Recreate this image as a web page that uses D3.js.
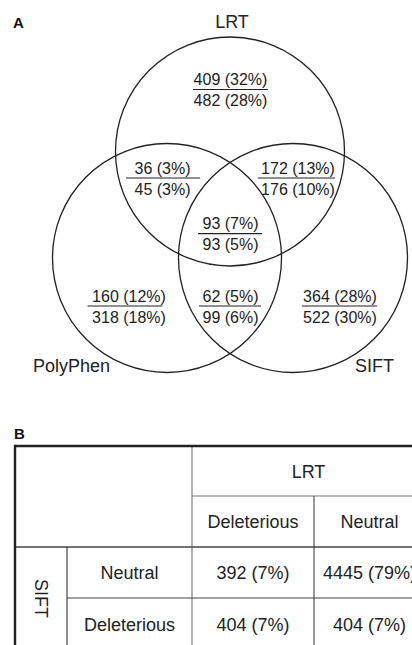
<!DOCTYPE html>
<html>
<head>
<meta charset="utf-8">
<script src="https://cdn.jsdelivr.net/npm/d3@7"></script>
<style>
  html, body { margin: 0; padding: 0; background: #fff; }
  svg { display: block; }
  text { font-family: Arial, "Liberation Sans", sans-serif; fill: #222; }
</style>
</head>
<body>
<div id="chart"></div>
<script>
// ---------- DATA ----------
const setNames = ["LRT", "PolyPhen", "SIFT"];
const regionKeys = ["LRT", "LRT&PolyPhen", "LRT&SIFT", "LRT&PolyPhen&SIFT", "PolyPhen", "PolyPhen&SIFT", "SIFT"];
const topCounts = [409, 36, 172, 93, 160, 62, 364];
const topPercents = [32, 3, 13, 7, 12, 5, 28];
const bottomCounts = [482, 45, 176, 93, 318, 99, 522];
const bottomPercents = [28, 3, 10, 5, 18, 6, 30];

const tableColTitle = "LRT";
const tableRowTitle = "SIFT";
const tableCols = ["Deleterious", "Neutral"];
const tableRows = ["Neutral", "Deleterious"];
const tableCounts = [[392, 4445], [404, 404]];
const tablePercents = [[7, 79], [7, 7]];

// ---------- LAYOUT ----------
const W = 412, H = 645;
const svg = d3.select("#chart").append("svg").attr("width", W).attr("height", H);

// Venn geometry (layout only)
const R = 114.5;
const circleLayout = {
  "LRT": { cx: 230, cy: 151.5, lx: 232, ly: 28, anchor: "middle" },
  "PolyPhen": { cx: 167, cy: 258, lx: 33, ly: 372, anchor: "start" },
  "SIFT": { cx: 293, cy: 258, lx: 394, ly: 372, anchor: "end" }
};
// region label anchor: line centre x, line y, line width, text centre x
const regionLayout = {
  "LRT": { x: 230.5, y: 89.5, w: 75, tx: 230.5 },
  "LRT&PolyPhen": { x: 163, y: 178, w: 74, tx: 162.5 },
  "LRT&SIFT": { x: 296.5, y: 178, w: 77, tx: 298 },
  "LRT&PolyPhen&SIFT": { x: 230, y: 233.7, w: 64, tx: 230.5 },
  "PolyPhen": { x: 125, y: 306, w: 75, tx: 129 },
  "PolyPhen&SIFT": { x: 230, y: 306, w: 62, tx: 230.5 },
  "SIFT": { x: 339.5, y: 306, w: 75, tx: 340 }
};

// panel letters
svg.append("text").attr("x", 13).attr("y", 27.5)
  .style("font-weight", "bold").style("font-size", "15px").style("fill", "#111").text("A");
svg.append("text").attr("x", 14).attr("y", 439)
  .style("font-weight", "bold").style("font-size", "15px").style("fill", "#111").text("B");

// circles
const venn = svg.append("g");
venn.selectAll("circle.set").data(setNames).join("circle")
  .attr("class", "set")
  .attr("cx", d => circleLayout[d].cx)
  .attr("cy", d => circleLayout[d].cy)
  .attr("r", R)
  .attr("fill", "none")
  .attr("stroke", "#222")
  .attr("stroke-width", 1.3);

venn.selectAll("text.setlabel").data(setNames).join("text")
  .attr("class", "setlabel")
  .attr("x", d => circleLayout[d].lx)
  .attr("y", d => circleLayout[d].ly)
  .attr("text-anchor", d => circleLayout[d].anchor)
  .style("font-size", "18px")
  .text(d => d);

const regions = regionKeys.map((k, i) => ({
  key: k,
  top: `${topCounts[i]} (${topPercents[i]}%)`,
  bottom: `${bottomCounts[i]} (${bottomPercents[i]}%)`
}));

const rg = venn.selectAll("g.region").data(regions).join("g").attr("class", "region");
rg.append("text")
  .attr("x", d => regionLayout[d.key].tx)
  .attr("y", d => regionLayout[d.key].y - 4.5)
  .attr("text-anchor", "middle")
  .style("font-size", "16px")
  .text(d => d.top);
rg.append("line")
  .attr("x1", d => regionLayout[d.key].x - regionLayout[d.key].w / 2)
  .attr("x2", d => regionLayout[d.key].x + regionLayout[d.key].w / 2)
  .attr("y1", d => regionLayout[d.key].y)
  .attr("y2", d => regionLayout[d.key].y)
  .attr("stroke", "#222").attr("stroke-width", 1.2);
rg.append("text")
  .attr("x", d => regionLayout[d.key].tx)
  .attr("y", d => regionLayout[d.key].y + 16.5)
  .attr("text-anchor", "middle")
  .style("font-size", "16px")
  .text(d => d.bottom);

// ---------- TABLE ----------
const tLeft = 15, tTop = 446, tRight = 425, tBottom = 650;
const xTitle = 67, xRowHead = 192, xCol2 = 314;
const yTitle = 496, yHead = 547, yRow2 = 598;

const colX = d3.scaleOrdinal().domain(tableCols).range([[xRowHead, xCol2], [xCol2, tRight]]);
const rowY = d3.scaleOrdinal().domain(tableRows).range([[yHead, yRow2], [yRow2, tBottom]]);

const tg = svg.append("g");
const gridLines = [
  { x1: xRowHead, y1: tTop, x2: xRowHead, y2: tBottom, c: "#888", w: 1.3 },
  { x1: xRowHead, y1: yTitle, x2: tRight, y2: yTitle, c: "#777", w: 1.1 },
  { x1: xCol2, y1: yTitle, x2: xCol2, y2: tBottom, c: "#333", w: 1 },
  { x1: tLeft, y1: yHead, x2: tRight, y2: yHead, c: "#444", w: 1.5 },
  { x1: xTitle, y1: yHead, x2: xTitle, y2: tBottom, c: "#333", w: 1.1 },
  { x1: xTitle, y1: yRow2, x2: tRight, y2: yRow2, c: "#444", w: 1.1 },
  { x1: tLeft, y1: tTop, x2: tRight, y2: tTop, c: "#222", w: 2.4 },
  { x1: tLeft, y1: tTop - 1.2, x2: tLeft, y2: tBottom, c: "#222", w: 2.4 }
];
tg.selectAll("line").data(gridLines).join("line")
  .attr("x1", d => d.x1).attr("y1", d => d.y1)
  .attr("x2", d => d.x2).attr("y2", d => d.y2)
  .attr("stroke", d => d.c).attr("stroke-width", d => d.w);

const fs = "18px";
tg.append("text")
  .attr("x", (xRowHead + tRight) / 2).attr("y", (tTop + yTitle) / 2 + 6.5)
  .attr("text-anchor", "middle").style("font-size", fs).text(tableColTitle);

tg.selectAll("text.colhead").data(tableCols).join("text")
  .attr("class", "colhead")
  .attr("x", d => (colX(d)[0] + colX(d)[1]) / 2)
  .attr("y", (yTitle + yHead) / 2 + 6.5)
  .attr("text-anchor", "middle").style("font-size", fs).text(d => d);

tg.selectAll("text.rowhead").data(tableRows).join("text")
  .attr("class", "rowhead")
  .attr("x", (xTitle + xRowHead) / 2)
  .attr("y", d => (rowY(d)[0] + rowY(d)[1]) / 2 + 6.5)
  .attr("text-anchor", "middle").style("font-size", fs).text(d => d);

tg.append("text")
  .attr("transform", `translate(${(tLeft + xTitle) / 2 - 6.5},${(yHead + tBottom) / 2}) rotate(90)`)
  .attr("text-anchor", "middle").style("font-size", fs).text(tableRowTitle);

const cells = [];
tableRows.forEach((r, i) => tableCols.forEach((c, j) => {
  cells.push({ r, c, label: `${tableCounts[i][j]} (${tablePercents[i][j]}%)` });
}));
tg.selectAll("text.cell").data(cells).join("text")
  .attr("class", "cell")
  .attr("x", d => (colX(d.c)[0] + colX(d.c)[1]) / 2)
  .attr("y", d => (rowY(d.r)[0] + rowY(d.r)[1]) / 2 + 6.5)
  .attr("text-anchor", "middle").style("font-size", fs).text(d => d.label);
</script>
</body>
</html>
